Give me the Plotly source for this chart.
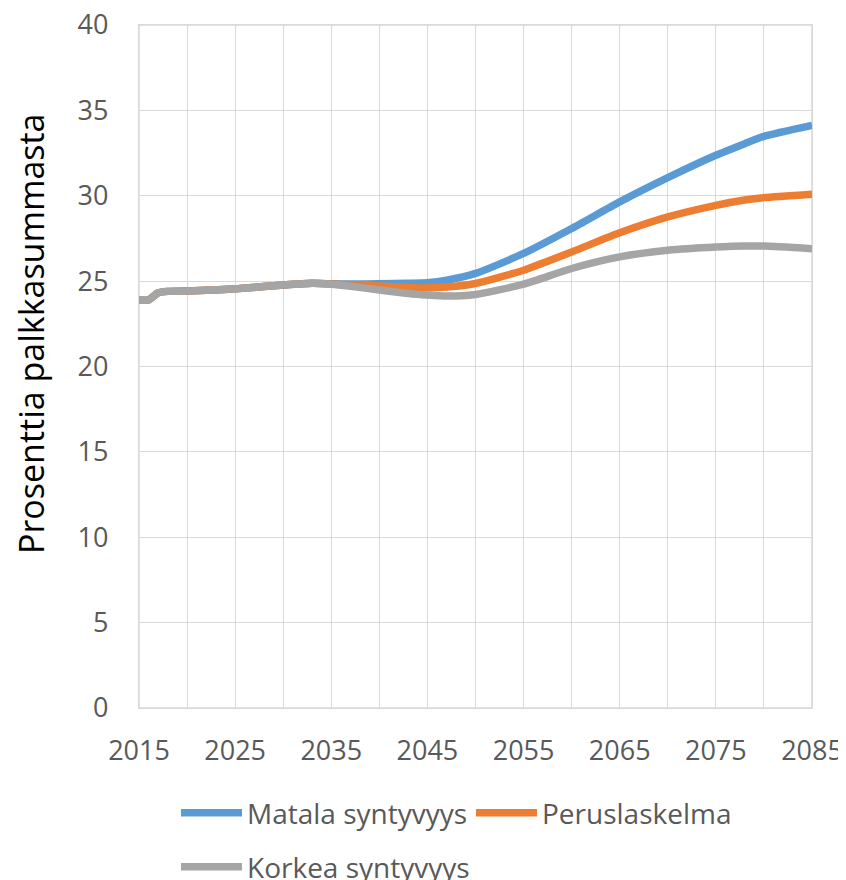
import plotly.graph_objects as go

years = [2015, 2016, 2017, 2018, 2020, 2025, 2030, 2033, 2035, 2037, 2040, 2043, 2045, 2047,
         2050, 2055, 2060, 2065, 2070, 2075, 2078, 2080, 2085]

matala = [23.9, 23.9, 24.32, 24.4, 24.42, 24.55, 24.77, 24.87, 24.84, 24.83, 24.85, 24.87, 24.9, 25.05,
          25.45, 26.62, 28.08, 29.64, 31.06, 32.37, 33.05, 33.48, 34.12]
perus = [23.9, 23.9, 24.32, 24.4, 24.42, 24.55, 24.77, 24.87, 24.83, 24.79, 24.72, 24.63, 24.6, 24.65,
         24.86, 25.64, 26.71, 27.83, 28.76, 29.44, 29.75, 29.89, 30.09]
korkea = [23.9, 23.9, 24.32, 24.4, 24.42, 24.55, 24.77, 24.87, 24.82, 24.7, 24.48, 24.28, 24.19, 24.13,
          24.22, 24.82, 25.74, 26.42, 26.81, 27.0, 27.06, 27.05, 26.9]

series_names = ["Matala syntyvyys", "Peruslaskelma", "Korkea syntyvyys"]
series_colors = ["#5B9BD5", "#ED7D31", "#A5A5A5"]
series_legends = ["legend", "legend", "legend2"]

y_title = "Prosenttia palkkasummasta"

font = "Open Sans, sans-serif"

# the page body adds an 8px offset; figure is sized to fill the rest of the window
W, H = 838, 872
L, R, T, B = 131, 34, 17, 172
plot_w = W - L - R
plot_h = H - T - B

fig = go.Figure()
for name, vals, col, lg in zip(series_names, [matala, perus, korkea], series_colors, series_legends):
    fig.add_trace(go.Scatter(
        x=years, y=vals, name=name, mode="lines", legend=lg,
        line=dict(color=col, width=7.5, shape="spline", smoothing=0.6),
    ))

grid = "#D9D9D9"
leg_common = dict(
    orientation="h", xanchor="left", yanchor="middle",
    font=dict(family=font, size=28, color="#595959"),
    entrywidth=219, itemwidth=61, tracegroupgap=0,
    bgcolor="rgba(0,0,0,0)",
)
leg_x = (168 - L) / plot_w
fig.update_layout(
    width=W, height=H,
    margin=dict(l=L, r=R, t=T, b=B, autoexpand=False),
    plot_bgcolor="white", paper_bgcolor="white",
    showlegend=True,
    legend=dict(x=leg_x, y=-(805 - (H - B)) / plot_h, **leg_common),
    legend2=dict(x=leg_x, y=-(859 - (H - B)) / plot_h, **leg_common),
    xaxis=dict(
        range=[2015, 2085], tick0=2015, dtick=10, showgrid=True, gridcolor=grid, gridwidth=1.3,
        minor=dict(dtick=5, tick0=2015, showgrid=True, gridcolor=grid, gridwidth=1.3),
        showline=True, mirror=True, linecolor=grid, linewidth=1.3,
        zeroline=False, ticks="", automargin=False, ticklabeloverflow="allow",
        tickfont=dict(family=font, size=27, color="#595959"),
        ticklabelstandoff=18,
    ),
    yaxis=dict(
        range=[0, 40], dtick=5, showgrid=True, gridcolor=grid, gridwidth=1.3,
        showline=True, mirror=True, linecolor=grid, linewidth=1.3,
        zeroline=False, ticks="", automargin=False, ticklabeloverflow="allow",
        tickfont=dict(family=font, size=27, color="#595959"),
        ticklabelstandoff=24,
    ),
    shapes=[dict(
        type="rect", xref="paper", yref="paper", x0=0, x1=1, y0=0, y1=1,
        line=dict(color=grid, width=1.5), layer="below",
    )],
    annotations=[dict(
        text=y_title, textangle=-90, showarrow=False,
        xref="paper", yref="paper",
        x=(23 - L) / plot_w, y=((H - B) - 326) / plot_h,
        xanchor="center", yanchor="middle",
        font=dict(family=font, size=34, color="#000000"),
    )],
)

fig.write_html("out.html")
